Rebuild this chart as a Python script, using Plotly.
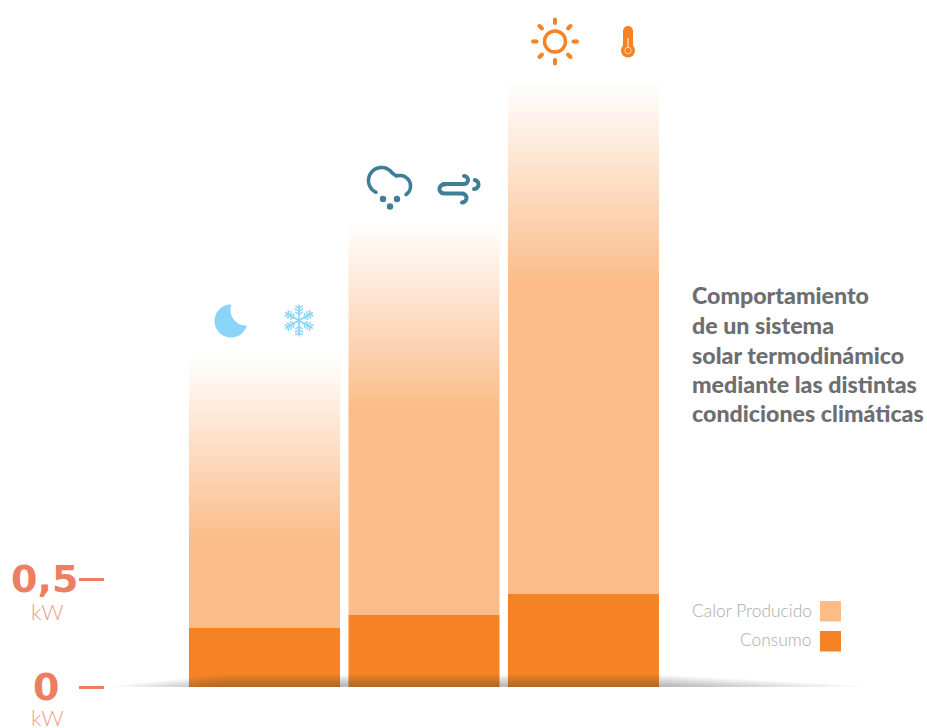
import math
import plotly.graph_objects as go

W, H = 927, 728
categories = ["Noche fría", "Lluvia y viento", "Sol y calor"]
consumo = [0.273, 0.333, 0.430]
calor_solido = [0.680, 1.290, 1.866]
calor_total = [1.537, 2.153, 2.800]
ticks = [0, 0.5]
tick_labels = ["0\u2002", "0,5"]
legend_labels = ["Calor Producido", "Consumo"]
title_lines = ["Comportamiento", "de un sistema", "solar termodinámico",
               "mediante las distintas", "condiciones climáticas"]

ORANGE, PEACH, SALMON = "#F58225", "#FBBC89", "#EC7F62"
SKY, TEAL, GREY = "#8AD4F8", "#3E7F97", "#6D6E70"
BAR_W = 0.947
x_idx = list(range(len(categories)))

fig = go.Figure()
fig.add_bar(x=x_idx, y=consumo, width=BAR_W, marker_color=ORANGE, marker_line_width=0,
            name="Consumo", customdata=categories, hoverinfo="skip")
fig.add_bar(x=x_idx, base=consumo, y=[s - c for s, c in zip(calor_solido, consumo)], width=BAR_W,
            marker_color=PEACH, marker_line_width=0, name="Calor Producido", hoverinfo="skip")
for i, s, t in zip(x_idx, calor_solido, calor_total):
    s0 = s - 0.004
    fig.add_scatter(x=[i - BAR_W/2, i + BAR_W/2, i + BAR_W/2, i - BAR_W/2, i - BAR_W/2],
                    y=[s0, s0, t, t, s0], mode="lines", line_width=0, fill="toself",
                    fillgradient=dict(type="vertical", colorscale=[[0, "rgba(251,188,137,1)"], [1, "rgba(251,188,137,0)"]]),
                    hoverinfo="skip", showlegend=False)

shapes = []
def px(x): return x / W
def py(y): return 1 - y / H
def circle(cx, cy, r, fill, line=None, lw=0):
    shapes.append(dict(type="circle", xref="paper", yref="paper", x0=px(cx-r), x1=px(cx+r), y0=py(cy+r), y1=py(cy-r),
                       fillcolor=fill, line=dict(color=line or "rgba(0,0,0,0)", width=lw), layer="above"))
def stroke(pts, color, w, caps=True):
    d = "M " + " L ".join(f"{px(a):.5f} {py(b):.5f}" for a, b in pts)
    shapes.append(dict(type="path", xref="paper", yref="paper", path=d, line=dict(color=color, width=w), layer="above"))
    if caps:
        circle(*pts[0], w/2, color); circle(*pts[-1], w/2, color)
def arc(cx, cy, r, a0, a1, n=30):
    return [(cx + r*math.cos(math.radians(a0 + (a1-a0)*k/n)), cy + r*math.sin(math.radians(a0 + (a1-a0)*k/n))) for k in range(n+1)]

# Moon
circle(231, 321, 16.5, SKY); circle(246, 310, 15.5, "#FFFFFF")
# Snowflake
for k in range(6):
    a = math.radians(30 + 60*k); ca, sa = math.cos(a), math.sin(a)
    cx, cy = 299, 320.5
    stroke([(cx, cy), (cx + 16*ca, cy + 16*sa)], SKY, 1.6, False)
    for d, l in ((6, 4.5), (9, 5), (12, 4.5)):
        b = (cx + d*ca, cy + d*sa)
        for s in (-1, 1):
            a2 = a + s*math.radians(55)
            stroke([b, (b[0] + l*math.cos(a2), b[1] + l*math.sin(a2))], SKY, 1.4, False)
# Cloud
stroke(arc(381.5, 180.5, 13, 115, 325) + arc(400, 186, 10.5, -110, 55), TEAL, 3.6)
for c in ((383, 199), (397, 199), (390, 206.5)):
    circle(*c, 3.2, TEAL)
# Wind
stroke(arc(464, 180, 4, -90, 90, 10) + [(444, 184)] + arc(444, 189, 4.5, -90, -270, 12) + [(462, 193.5)] + arc(462, 198, 4.5, -90, 90, 10), TEAL, 4)
stroke(arc(474, 184.5, 4.5, -80, 90, 10), TEAL, 4)
# Sun
circle(555, 41.5, 10.5, "rgba(0,0,0,0)", ORANGE, 3.4)
for k in range(8):
    a = math.radians(45*k)
    stroke([(555 + 18.5*math.cos(a), 41.5 + 18.5*math.sin(a)), (555 + 22*math.cos(a), 41.5 + 22*math.sin(a))], ORANGE, 4)
# Thermometer
stroke([(628, 31), (628, 50)], ORANGE, 10, True)
circle(628, 50.5, 7, ORANGE)
stroke([(628, 38), (628, 48)], "#FFD9BA", 1.4, False)
circle(628, 50.5, 3.2, "rgba(0,0,0,0)", "#FFD9BA", 1)
# Legend swatches
for top, col in ((601, PEACH), (631, ORANGE)):
    shapes.append(dict(type="rect", xref="paper", yref="paper", x0=px(820), x1=px(841), y0=py(top+20.5), y1=py(top),
                       fillcolor=col, line_width=0))
# Ground shadow
for k in range(24):
    t = k / 23
    x0 = 112 + t*110
    x1 = 862 - t*200
    h = 1.5 + t*11
    shapes.append(dict(type="rect", xref="paper", yref="paper", x0=px(x0), x1=px(x1), y0=py(687), y1=py(687-h),
                       fillcolor="#222222", opacity=0.017, line_width=0, layer="above"))

ann = []
for y, ln in zip((295, 325, 355, 384, 413), title_lines):
    ann.append(dict(x=px(690), y=py(y), xref="paper", yref="paper", text=ln, showarrow=False,
                    xanchor="left", yanchor="middle", font=dict(family="Lato", weight=900, size=23.2, color=GREY)))
for y, ln in zip((610, 639), legend_labels):
    ann.append(dict(x=px(814), y=py(y), xref="paper", yref="paper", text=ln, showarrow=False, xanchor="right",
                    yanchor="middle", font=dict(family="Lato", weight=300, size=17.4, color="#ABABAB")))
for y in (611, 717):
    ann.append(dict(x=px(47), y=py(y), xref="paper", yref="paper", text="kW", showarrow=False, xanchor="center",
                    yanchor="middle", font=dict(family="Lato", weight=300, size=22, color="#F0A08C")))

fig.update_layout(width=W, height=H, autosize=False, margin=dict(l=0, r=0, t=0, b=0), barmode="overlay",
                  plot_bgcolor="white", paper_bgcolor="white", showlegend=False, shapes=shapes, annotations=ann,
                  xaxis=dict(domain=[105/W, 1], range=[-1.0, 4.154], visible=False, fixedrange=True),
                  yaxis=dict(range=[-0.1898, 3.1806], showgrid=False, zeroline=False, showline=False, fixedrange=True,
                             tickmode="array", tickvals=ticks, ticktext=tick_labels, ticks="outside", ticklen=25,
                             tickwidth=2.5, tickcolor=SALMON, ticklabelstandoff=-7,
                             tickfont=dict(family="DejaVu Sans", weight=700, size=38, color=SALMON)))
fig.write_html("out.html", config=dict(displayModeBar=False),
               post_script="document.body.style.margin='0';document.documentElement.style.overflow='hidden';")
